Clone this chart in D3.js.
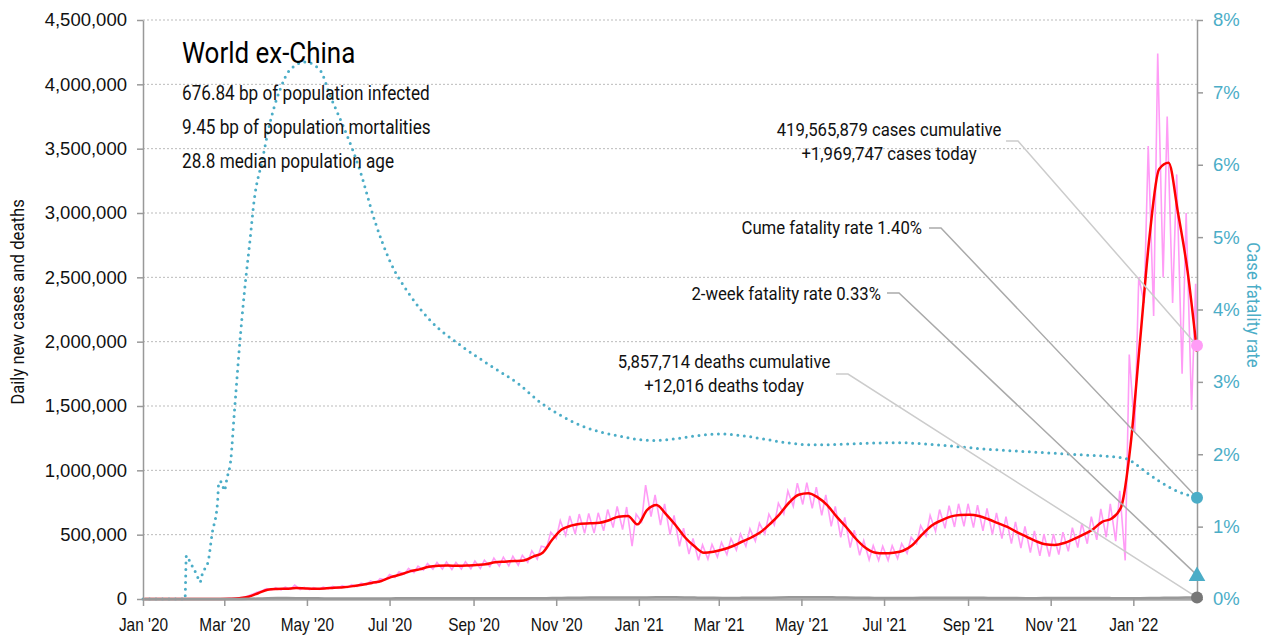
<!DOCTYPE html>
<html>
<head>
<meta charset="utf-8">
<script src="https://cdn.jsdelivr.net/npm/d3@7"></script>
<style>
  body { margin: 0; background: #fff; }
  svg { font-family: Roboto, "DejaVu Sans", sans-serif; }
</style>
</head>
<body>
<svg id="chart" width="1270" height="638"></svg>
<script>
// weekly series, week i ends on 2020-01-02 + 7*i days (values in thousands)
const casesAvg = [0,0,0,0,0,0,0.1,0.2,0.5,2,6,18,45,72,78,80,85,82,80,82,88,92,100,110,125,140,170,190,215,230,250,258,260,258,260,265,270,285,290,295,300,330,360,460,540,570,585,588,592,612,640,645,580,690,730,660,575,480,410,360,368,385,410,445,478,520,585,660,750,810,822,790,730,640,560,470,400,362,355,360,375,420,500,570,610,640,652,655,645,620,590,560,520,485,450,425,420,435,465,500,540,600,625,715,1200,2010,2820,3340,3390,3000,2550,1920];
const casesHigh = [0,0,0,0,0,0,0.1,0.2,0.5,3,8,22,52,80,88,92,108,90,88,92,98,104,112,124,140,158,190,212,238,256,275,285,288,285,290,295,302,318,325,332,340,375,410,520,610,645,660,665,670,695,720,715,660,885,810,740,650,550,470,420,425,440,470,505,545,590,660,745,840,900,905,870,810,720,635,535,455,415,410,415,430,480,570,650,695,725,740,740,730,705,670,640,600,565,530,505,505,520,555,590,640,700,740,840,1900,2500,3520,4240,3750,3300,3000,2450];
const casesLow = [0,0,0,0,0,0,0.1,0.2,0.5,1,4,14,38,64,70,72,75,74,72,74,80,82,88,96,110,122,150,168,192,205,225,232,232,230,232,235,238,252,255,258,262,285,310,400,470,495,505,510,512,530,555,540,410,600,640,575,500,410,350,300,310,325,345,380,410,450,505,575,660,720,735,705,650,565,480,400,340,305,300,300,315,355,430,490,525,550,560,565,555,530,500,470,430,395,360,335,330,345,370,400,430,460,480,450,300,1300,2300,2200,2500,2300,1750,1470];
const deathsAvg = [0,0,0,0,0,0,0,0,0,0.1,0.5,1.5,3.5,6,7,7,6.5,5.5,5,4.5,4.2,4.5,4.5,4.6,4.5,4.7,4.8,5.2,5.5,5.8,6,6,6.2,6,5.8,5.6,5.5,5.4,5.5,5.6,5.8,6,6.5,7,8.5,9.5,10.5,11,11.2,11.5,11.8,11.5,11,12.5,13.5,14,13.5,12.5,11,9.5,8.8,8.5,8.5,8.8,9.2,9.8,10.5,11.5,13,14,14.5,14.5,13.8,12.5,11.5,10.5,9.5,8.5,8,8,8.2,8.5,9,9.5,10,10.2,10,9.5,9,8.5,8,7.5,7,6.8,6.8,7,7.2,7.2,7,7,7,7,6.8,6.5,6.5,6.8,7.5,8.5,9.5,10.5,11,12];

// cumulative case fatality rate (%)
const cfrDates = ["2020-01-01","2020-01-28","2020-02-01","2020-02-02","2020-02-05","2020-02-10","2020-02-12","2020-02-14","2020-02-18","2020-02-21","2020-02-25","2020-02-26","2020-02-28","2020-03-01","2020-03-03","2020-03-06","2020-03-08","2020-03-10","2020-03-12","2020-03-16","2020-03-20","2020-03-23","2020-03-29","2020-04-04","2020-04-11","2020-04-18","2020-04-30","2020-05-11","2020-05-18","2020-05-29","2020-06-09","2020-06-20","2020-07-01","2020-07-16","2020-07-31","2020-08-22","2020-09-13","2020-10-05","2020-10-20","2020-11-04","2020-11-19","2020-12-03","2020-12-18","2021-01-02","2021-01-12","2021-03-01","2021-05-10","2021-07-10","2021-08-15","2021-09-15","2021-10-20","2021-11-25","2021-12-20","2021-12-28","2022-01-03","2022-01-10","2022-01-20","2022-01-30","2022-02-08","2022-02-17"];
const cfrValues = [0,0,0,0.6,0.5,0.32,0.23,0.36,0.51,0.9,1.33,1.62,1.62,1.5,1.67,1.96,2.47,2.96,3.44,4.27,4.96,5.5,6.06,6.6,7.03,7.3,7.42,7.3,6.96,6.48,5.93,5.23,4.68,4.2,3.85,3.51,3.23,2.96,2.72,2.54,2.4,2.31,2.25,2.2,2.19,2.28,2.13,2.16,2.12,2.07,2.03,1.99,1.96,1.93,1.86,1.76,1.63,1.52,1.45,1.40];

const casesToday = 1969747, deathsToday = 12016;
const cumeFatality = 1.40, twoWeekFatality = 0.33;
const leftTicks = [0,500000,1000000,1500000,2000000,2500000,3000000,3500000,4000000,4500000];
const rightTicks = [0,1,2,3,4,5,6,7,8];

const titleText = "World ex-China";
const infoLines = ["676.84 bp of population infected", "9.45 bp of population mortalities", "28.8 median population age"];

const parse = d3.timeParse("%Y-%m-%d");
const start = parse("2020-01-01"), end = parse("2022-02-17");
const week0 = parse("2020-01-02");

const svg = d3.select("#chart");
const x = d3.scaleTime().domain([start, end]).range([143, 1197]);
const y = d3.scaleLinear().domain([0, 4500000]).range([599, 20]);
const yR = d3.scaleLinear().domain([0, 8]).range([599, 20]);

const teal = "#4badc7", pink = "#ff9cf6", red = "#ff0000";
const squeeze = 0.88; // narrow the text like the original condensed face

// grid
svg.append("g")
  .selectAll("line")
  .data(leftTicks.filter(d => d > 0))
  .join("line")
    .attr("x1", 143).attr("x2", 1197)
    .attr("y1", d => y(d)).attr("y2", d => y(d))
    .attr("stroke", "#bbb")
    .attr("stroke-dasharray", "2,2");

// series
const weekly = casesAvg.map((v, i) => ({date: d3.timeDay.offset(week0, 7 * i), avg: v * 1000, deaths: deathsAvg[i] * 1000}));

let raw = [];
weekly.forEach((d, i) => {
  raw.push({date: d3.timeDay.offset(d.date, -4), v: casesLow[i] * 1000});
  raw.push({date: d3.timeDay.offset(d.date, -1), v: casesHigh[i] * 1000});
});
raw = raw.filter(d => d.date >= start);
raw.push({date: end, v: casesToday});

const cfr = cfrDates.map((d, i) => ({date: parse(d), v: cfrValues[i]}));

svg.append("path")
  .datum(raw)
  .attr("fill", "none")
  .attr("stroke", pink)
  .attr("stroke-width", 1.6)
  .attr("d", d3.line().x(d => x(d.date)).y(d => y(d.v)));

svg.append("path")
  .datum(weekly)
  .attr("fill", "none")
  .attr("stroke", red)
  .attr("stroke-width", 2.5)
  .attr("d", d3.line().curve(d3.curveMonotoneX).x(d => x(d.date)).y(d => y(d.avg)));

svg.append("path")
  .datum(cfr)
  .attr("fill", "none")
  .attr("stroke", teal)
  .attr("stroke-width", 3)
  .attr("stroke-linecap", "round")
  .attr("stroke-dasharray", "0,6.5")
  .attr("d", d3.line().curve(d3.curveMonotoneX).x(d => x(d.date)).y(d => yR(d.v)));

// axes
const fmtMonth = d3.timeFormat("%b '%y");
const xAxis = svg.append("g")
  .attr("transform", "translate(0,599)")
  .call(d3.axisBottom(x).ticks(d3.timeMonth.every(2)).tickFormat(fmtMonth).tickSize(7).tickSizeOuter(0));
xAxis.select(".domain").attr("stroke", "#aaa").attr("stroke-width", 2.5);
xAxis.selectAll(".tick line").attr("stroke", "#999").attr("stroke-width", 1.5);
xAxis.selectAll("text")
  .attr("font-size", 17.5).attr("fill", "#111").attr("font-family", null)
  .attr("y", null).attr("dy", null)
  .attr("transform", `translate(0,32) scale(${squeeze},1)`);

const yAxis = svg.append("g")
  .attr("transform", "translate(143,0)")
  .call(d3.axisLeft(y).tickValues(leftTicks).tickFormat(d3.format(",")).tickSize(6).tickSizeOuter(0));
yAxis.select(".domain").attr("stroke", "#999").attr("stroke-width", 1.5);
yAxis.selectAll(".tick line").attr("stroke", "#999").attr("stroke-width", 1.5);
yAxis.selectAll("text").attr("font-size", 18.5).attr("fill", "#111").attr("font-family", null).attr("x", -16);

const rAxis = svg.append("g")
  .attr("transform", "translate(1197,0)")
  .call(d3.axisRight(yR).tickValues(rightTicks).tickFormat(d => d + "%").tickSize(6).tickSizeOuter(0));
rAxis.select(".domain").attr("stroke", "#999").attr("stroke-width", 1.5);
rAxis.selectAll(".tick line").attr("stroke", "#999").attr("stroke-width", 1.5);
rAxis.selectAll("text").attr("font-size", 18.5).attr("fill", teal).attr("font-family", null).attr("x", 16);

// deaths near the baseline
svg.append("path")
  .datum(weekly)
  .attr("fill", "none")
  .attr("stroke", "#999")
  .attr("stroke-width", 2.5)
  .attr("d", d3.line().curve(d3.curveMonotoneX).x(d => x(d.date)).y(d => y(d.deaths)));

// axis titles
svg.append("text")
  .attr("transform", `translate(24,302) rotate(-90) scale(${squeeze},1)`)
  .attr("text-anchor", "middle")
  .attr("font-size", 19)
  .attr("fill", "#111")
  .text("Daily new cases and deaths");

svg.append("text")
  .attr("transform", `translate(1247,305) rotate(90) scale(${squeeze},1)`)
  .attr("text-anchor", "middle")
  .attr("font-size", 19)
  .attr("fill", teal)
  .text("Case fatality rate");

// title block
svg.append("text")
  .attr("transform", `translate(182,63) scale(${squeeze},1)`)
  .attr("font-size", 29.5)
  .attr("fill", "#000")
  .text(titleText);

svg.append("g")
  .selectAll("text")
  .data(infoLines)
  .join("text")
    .attr("transform", (d, i) => `translate(182,${100 + i * 34}) scale(${squeeze},1)`)
    .attr("font-size", 19.5)
    .attr("fill", "#111")
    .text(d => d);

// annotations with leader lines
const xEnd = x(end);
const notes = [
  {lines: ["419,565,879 cases cumulative", "+1,969,747 cases today"], anchor: "middle", tx: 889, ty: 136, lx: 1006, ly: 141, ey: y(casesToday), color: "#ccc"},
  {lines: ["Cume fatality rate 1.40%"], anchor: "end", tx: 922, ty: 234, lx: 929, ly: 228, ey: yR(cumeFatality), color: "#aaa"},
  {lines: ["2-week fatality rate 0.33%"], anchor: "end", tx: 881, ty: 300, lx: 887, ly: 293, ey: yR(twoWeekFatality), color: "#aaa"},
  {lines: ["5,857,714 deaths cumulative", "+12,016 deaths today"], anchor: "middle", tx: 724, ty: 368, lx: 836, ly: 374, ey: y(deathsToday), color: "#ccc"}
];

svg.append("g")
  .selectAll("polyline")
  .data(notes)
  .join("polyline")
    .attr("fill", "none")
    .attr("stroke", d => d.color)
    .attr("stroke-width", 1.5)
    .attr("points", d => [[d.lx, d.ly], [d.lx + 12, d.ly], [xEnd, d.ey]].map(p => p.join(",")).join(" "));

notes.forEach(n => {
  svg.append("text")
    .attr("transform", `translate(${n.tx},${n.ty}) scale(${squeeze},1)`)
    .attr("text-anchor", n.anchor)
    .attr("font-size", 19)
    .attr("fill", "#111")
    .selectAll("tspan")
    .data(n.lines)
    .join("tspan")
      .attr("x", 0)
      .attr("y", (d, i) => i * 24)
      .text(d => d);
});

// end markers
svg.append("circle").attr("cx", xEnd).attr("cy", y(casesToday)).attr("r", 6).attr("fill", pink);
svg.append("circle").attr("cx", xEnd).attr("cy", yR(cumeFatality)).attr("r", 6).attr("fill", teal);
svg.append("path")
  .attr("transform", `translate(${xEnd},${yR(twoWeekFatality) + 1})`)
  .attr("d", d3.symbol(d3.symbolTriangle, 120)())
  .attr("fill", teal);
svg.append("circle").attr("cx", xEnd).attr("cy", y(deathsToday)).attr("r", 6).attr("fill", "#777");
</script>
</body>
</html>
